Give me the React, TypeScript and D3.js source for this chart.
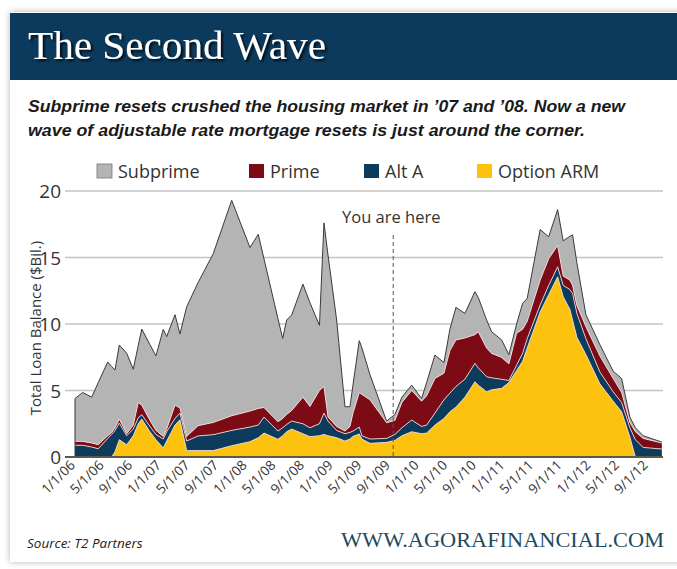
import React from 'react';
import * as d3 from 'd3';

// x positions in months after 1/1/06
const monthIdx = [
  0, 1.08, 2.33, 3.25, 4.57, 5.13, 5.59, 6.19, 7.22, 8.14,
  8.84, 9.33, 10.47, 11.31, 12.33, 12.81, 13.97, 14.66, 15.6, 17.18,
  19.32, 21.89, 24.44, 25.6, 26.4, 28.35, 29.01, 29.57, 30.27, 31.84,
  32.82, 34.15, 34.78, 35.34, 36.55, 37.71, 38.41, 38.83, 39.71, 40.08,
  41.2, 43.53, 44.69, 45.67, 47.03, 48.42, 49.12, 50.28, 51.54, 52.37,
  53.21, 54.47, 55.87, 56.33, 57.5, 58.2, 59.6, 60.61, 61.69, 62.53,
  63.17, 64.98, 66.17, 67.42, 68.2, 69.13, 69.51, 70.11, 71.37, 73.32,
  75.18, 76.36, 77.51, 78.28, 79.37, 81.98,
];

const optionArm = [
  0, 0, 0, 0, 0, 0, 0.4, 1.3, 0.92, 1.6,
  2.5, 2.85, 1.9, 1.3, 0.68, 1.2, 2.4, 2.8, 0.48, 0.48,
  0.48, 0.85, 1.15, 1.45, 1.8, 1.33, 1.6, 1.9, 2.1, 1.75,
  1.53, 1.6, 1.7, 1.6, 1.45, 1.2, 1.35, 1.55, 1.73, 1.35,
  1.03, 1.1, 1.25, 1.6, 1.9, 1.75, 1.8, 2.4, 2.9, 3.4,
  3.75, 4.5, 5.66, 5.4, 4.91, 5.05, 5.16, 5.6, 6.5, 7.2,
  8.2, 10.9, 12.2, 13.55, 12.05, 11.1, 10.3, 9.0, 7.7, 5.5,
  4.2, 3.4, 1.5, 0, 0, 0,
];

const altA = [
  0.88, 0.88, 0.75, 0.62, 1.4, 1.7, 1.6, 1.25, 0.68, 0.5,
  0.45, 0.33, 0.4, 0.4, 0.67, 0.7, 0.5, 0.5, 0.72, 1.1,
  1.2, 1.15, 1.1, 0.95, 1.2, 0.62, 0.6, 0.55, 0.6, 0.75,
  0.67, 0.9, 1.6, 1.1, 0.55, 0.55, 0.5, 0.4, 0.52, 0.25,
  0.32, 0.3, 0.45, 0.6, 0.88, 0.55, 0.6, 0.9, 1.4, 1.4,
  1.55, 1.35, 1.38, 1.3, 1.13, 0.9, 0.68, 0.15, 0.4, 0.6,
  0.7, 0.53, 0.7, 0.75, 0.85, 1.5, 2.0, 1.8, 1.2, 0.9,
  0.7, 0.7, 0.7, 1.3, 0.72, 0.6,
];

const prime = [
  0.3, 0.29, 0.3, 0.31, 0.2, 0.15, 0.2, 0.3, 0.15, 0.3,
  1.15, 0.72, 0.45, 0.3, 0.2, 0.2, 1.0, 0.38, 0.35, 0.77,
  0.92, 1.1, 1.2, 1.25, 0.72, 0.7, 0.7, 0.75, 0.8, 2.0,
  1.6, 2.5, 2.0, 0.3, 0.3, 0.2, 0.45, 1.35, 2.59, 3.1,
  2.95, 1.18, 1.05, 1.9, 2.22, 1.9, 2.2, 2.6, 2.0, 3.2,
  3.5, 3.1, 2.16, 2.72, 2.16, 1.84, 1.65, 1.25, 2.4, 1.8,
  1.3, 1.87, 2.0, 1.6, 0.7, 0.7, 0.6, 0.6, 0.9, 1.2,
  1.0, 0.75, 0.4, 0.6, 0.68, 0.45,
];

const subprime = [
  3.22, 3.68, 3.45, 4.67, 5.54, 4.95, 4.34, 5.57, 6.05, 4.2,
  4.3, 5.72, 5.7, 5.6, 8.05, 6.95, 6.8, 5.57, 9.75, 10.75,
  12.7, 16.2, 12.3, 13.09, 11.18, 7.75, 6.02, 7.1, 7.18, 8.5,
  7.8, 4.9, 12.3, 12.2, 8.0, 1.83, 1.48, 2.1, 3.91, 3.5,
  1.9, 0.12, 0.45, 0.4, 0.4, 0.2, 1.0, 1.77, 0.8, 1.6,
  2.45, 1.85, 3.23, 2.58, 2.1, 1.63, 1.31, 0.7, 0.7, 1.95,
  1.73, 3.8, 1.66, 2.7, 2.65, 3.3, 3.8, 3.2, 0.9, 0.85,
  0.55, 1.05, 0.4, 0.3, 0.2, 0.07,
];

const tickLabels = [
  '1/1/06', '5/1/06', '9/1/06', '1/1/07', '5/1/07', '9/1/07', '1/1/08',
  '5/1/08', '9/1/08', '1/1/09', '5/1/09', '9/1/09', '1/1/10', '5/1/10',
  '9/1/10', '1/1/11', '5/1/11', '9/1/11', '1/1/12', '5/1/12', '9/1/12',
];
const yTicks = [0, 5, 10, 15, 20];
const youAreHereMonth = 44.45;

const seriesKeys = ['optionArm', 'altA', 'prime', 'subprime'];
const legendItems = [
  { key: 'subprime', label: 'Subprime' },
  { key: 'prime', label: 'Prime' },
  { key: 'altA', label: 'Alt A' },
  { key: 'optionArm', label: 'Option ARM' },
];
const colors: Record<string, string> = {
  subprime: '#b4b4b4',
  prime: '#7c0b16',
  altA: '#0c3b5c',
  optionArm: '#fcc20d',
};

export default function App() {
  const W = 677;
  const H = 569;
  const x = d3.scaleLinear().domain([0, 82]).range([75, 662]);
  const y = d3.scaleLinear().domain([0, 20]).range([457, 191]);

  const rows = monthIdx.map((m, i) => ({
    m,
    optionArm: optionArm[i],
    altA: altA[i],
    prime: prime[i],
    subprime: subprime[i],
  }));
  const stacked = d3.stack<any>().keys(seriesKeys)(rows);
  const area = d3
    .area<any>()
    .x((d) => x(d.data.m))
    .y0((d) => y(d[0]))
    .y1((d) => y(d[1]));
  const topLine = d3
    .line<any>()
    .x((d) => x(d.data.m))
    .y((d) => y(d[1]));

  const sans = "'Open Sans', 'Liberation Sans', Arial, sans-serif";
  const legendX = [97, 249, 364, 477];

  return (
    <svg
      width={W}
      height={H}
      style={{ position: 'absolute', left: 0, top: 0, background: '#ffffff' }}
    >
      <defs>
        <filter id="cardShadow" x="-5%" y="-5%" width="110%" height="110%">
          <feDropShadow dx="0" dy="0" stdDeviation="3" floodColor="#000" floodOpacity="0.3" />
        </filter>
        <filter id="titleShadow" x="-5%" y="-20%" width="110%" height="150%">
          <feDropShadow dx="2" dy="2" stdDeviation="1" floodColor="#000" floodOpacity="0.8" />
        </filter>
      </defs>
      <rect x={10} y={12} width={680} height={550} fill="#fff" filter="url(#cardShadow)" />
      <rect x={10} y={13} width={680} height={67} fill="#0b3a5c" />
      <text
        x={28}
        y={59}
        fill="#fff"
        fontFamily="'Liberation Serif', 'DejaVu Serif', serif"
        fontSize={40}
        textLength={298}
        lengthAdjust="spacingAndGlyphs"
        filter="url(#titleShadow)"
      >
        The Second Wave
      </text>
      <text
        x={28}
        y={112}
        fill="#1a1a1a"
        fontFamily="'Liberation Sans', Arial, sans-serif"
        fontWeight="bold"
        fontStyle="italic"
        fontSize={17}
        textLength={597}
        lengthAdjust="spacingAndGlyphs"
      >
        Subprime resets crushed the housing market in ’07 and ’08. Now a new
      </text>
      <text
        x={28}
        y={136}
        fill="#1a1a1a"
        fontFamily="'Liberation Sans', Arial, sans-serif"
        fontWeight="bold"
        fontStyle="italic"
        fontSize={17}
        textLength={557}
        lengthAdjust="spacingAndGlyphs"
      >
        wave of adjustable rate mortgage resets is just around the corner.
      </text>

      {legendItems.map((it, i) => (
        <g key={it.key}>
          <rect
            x={legendX[i]}
            y={164}
            width={15}
            height={14}
            fill={colors[it.key]}
            stroke={it.key === 'subprime' ? '#777' : 'none'}
            strokeWidth={0.8}
          />
          <text x={legendX[i] + 21} y={178} fill="#333" fontFamily={sans} fontSize={18}>
            {it.label}
          </text>
        </g>
      ))}

      {yTicks.map((t) => (
        <g key={t}>
          {t !== 0 && (
            <line x1={65} x2={663} y1={y(t)} y2={y(t)} stroke="#c4c4c4" strokeWidth={1.3} />
          )}
          <text
            x={61}
            y={y(t) + 7}
            textAnchor="end"
            fill="#333"
            fontFamily={sans}
            fontSize={19}
          >
            {t}
          </text>
        </g>
      ))}

      <text
        transform={`translate(41,${328}) rotate(-90)`}
        textAnchor="middle"
        fill="#333"
        fontFamily={sans}
        fontSize={15}
      >
        Total Loan Balance ($Bil.)
      </text>

      {stacked.map((s: any) => (
        <path key={s.key} d={area(s) || ''} fill={colors[s.key]} />
      ))}
      {stacked.slice(0, 3).map((s: any) => (
        <path
          key={s.key + '-sep'}
          d={topLine(s) || ''}
          fill="none"
          stroke="#f3dede"
          strokeOpacity={0.85}
          strokeWidth={1}
        />
      ))}
      <path
        d={topLine(stacked[3]) || ''}
        fill="none"
        stroke="#3a3a3a"
        strokeWidth={1}
      />
      <line
        x1={x(0)}
        x2={x(0)}
        y1={y(0)}
        y2={y(d3.sum(seriesKeys, (k) => (rows[0] as any)[k]))}
        stroke="#3a3a3a"
        strokeWidth={1}
      />

      <line x1={65} x2={663} y1={y(0)} y2={y(0)} stroke="#5a5a48" strokeWidth={1.8} />

      <line
        x1={x(youAreHereMonth)}
        x2={x(youAreHereMonth)}
        y1={235}
        y2={y(0)}
        stroke="#555"
        strokeWidth={1}
        strokeDasharray="4,3"
      />
      <text x={342} y={223} fill="#333" fontFamily={sans} fontSize={16.5}>
        You are here
      </text>

      {tickLabels.map((lab, i) => (
        <text
          key={lab}
          transform={`translate(${x(i * 4) + 1},${466}) rotate(-45)`}
          textAnchor="end"
          fill="#333"
          fontFamily={sans}
          fontSize={13.5}
        >
          {lab}
        </text>
      ))}

      <text
        x={27}
        y={548}
        fill="#222"
        fontFamily={sans}
        fontStyle="italic"
        fontSize={13.5}
      >
        Source: T2 Partners
      </text>
      <text
        x={341}
        y={547}
        fill="#1e4a5e"
        fontFamily="'Liberation Serif', 'DejaVu Serif', serif"
        fontSize={20}
        textLength={323}
        lengthAdjust="spacingAndGlyphs"
      >
        WWW.AGORAFINANCIAL.COM
      </text>
    </svg>
  );
}
